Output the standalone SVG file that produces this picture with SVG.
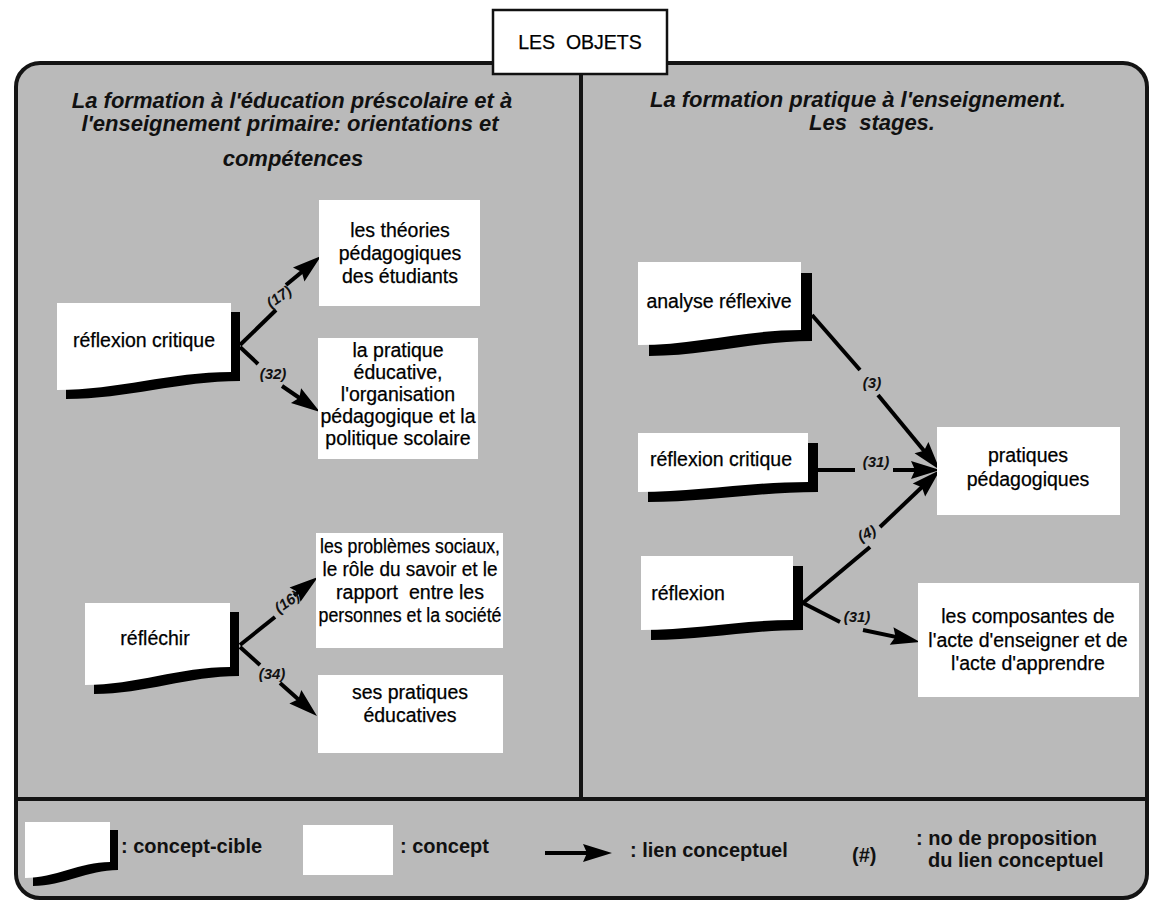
<svg xmlns="http://www.w3.org/2000/svg" width="1152" height="907" viewBox="0 0 1152 907">
  <defs>
    <marker id="ah" viewBox="-30 -11 32 22" markerWidth="32" markerHeight="22" refX="-15" refY="0" orient="auto" markerUnits="userSpaceOnUse">
      <path d="M0,0 L-29,-9 L-25,0 L-29,9 Z" fill="#000"/>
    </marker>
  </defs>
  <style>
    .panel { fill: #bababa; stroke: #141414; stroke-width: 4; }
    .rule { stroke: #141414; stroke-width: 4; }
    .shadow { fill: #000; }
    .card { fill: #fff; }
    .t { font-family: "Liberation Sans", Arial, sans-serif; font-size: 19.5px; fill: #000; stroke: #000; stroke-width: 0.25; text-anchor: middle; }
    .head { font-family: "Liberation Sans", Arial, sans-serif; font-size: 22px; font-style: italic; font-weight: bold; fill: #111; text-anchor: middle; }
    .lbl { font-family: "Liberation Sans", Arial, sans-serif; font-size: 15px; font-style: italic; font-weight: bold; fill: #111; text-anchor: middle; }
    .leg { font-family: "Liberation Sans", Arial, sans-serif; font-size: 20px; font-weight: bold; fill: #111; }
    .link { stroke: #000; stroke-width: 4; fill: none; }
    .arrow { marker-end: url(#ah); }
  </style>

  <!-- frame -->
  <rect class="panel" x="16" y="63" width="1131" height="835" rx="24"/>
  <line class="rule" x1="581" y1="74" x2="581" y2="799"/>
  <line class="rule" x1="16" y1="799" x2="1147" y2="799"/>

  <g id="title">
    <rect x="493" y="10" width="174" height="64" fill="#fff" stroke="#111" stroke-width="2.5"/>
    <text class="t" x="580" y="49" font-size="20" xml:space="preserve">LES  OBJETS</text>
  </g>

  <g id="heading-left">
    <text class="head" x="292" y="108">La formation à l'éducation préscolaire et à</text>
    <text class="head" x="290" y="131">l'enseignement primaire: orientations et</text>
    <text class="head" x="293" y="166">compétences</text>
  </g>
  <g id="heading-right">
    <text class="head" x="858" y="107">La formation pratique à l'enseignement.</text>
    <text class="head" x="872" y="130" xml:space="preserve">Les  stages.</text>
  </g>

  <!-- connectors -->
  <g id="connectors">
    <!-- réflexion critique -> théories (17) -->
    <line class="link" x1="240" y1="345" x2="276" y2="310"/>
    <line class="link arrow" x1="286" y1="285" x2="309.5" y2="265.6"/>
    <text class="lbl" transform="translate(282,301) rotate(-35)">(17)</text>
    <!-- réflexion critique -> pratique éducative (32) -->
    <line class="link" x1="240" y1="347" x2="258" y2="364"/>
    <line class="link arrow" x1="282" y1="386" x2="307.6" y2="403.5"/>
    <text class="lbl" x="273" y="379">(32)</text>
    <!-- réfléchir -> problèmes sociaux (16) -->
    <line class="link" x1="240" y1="645" x2="275" y2="617"/>
    <line class="link arrow" x1="294" y1="595.5" x2="306.1" y2="586.2"/>
    <text class="lbl" transform="translate(290,606) rotate(-35)">(16)</text>
    <!-- réfléchir -> ses pratiques (34) -->
    <line class="link" x1="240" y1="647" x2="260" y2="665"/>
    <line class="link arrow" x1="280" y1="683" x2="305.8" y2="706"/>
    <text class="lbl" x="272" y="679">(34)</text>
    <!-- analyse réflexive -> pratiques pédagogiques (3) -->
    <line class="link" x1="812" y1="315" x2="860" y2="370"/>
    <line class="link arrow" x1="878" y1="395" x2="930.4" y2="458.4"/>
    <text class="lbl" x="872" y="388">(3)</text>
    <!-- réflexion critique -> pratiques pédagogiques (31) -->
    <line class="link" x1="817" y1="470" x2="855" y2="470"/>
    <line class="link arrow" x1="893" y1="470" x2="925" y2="470"/>
    <text class="lbl" x="876" y="467">(31)</text>
    <!-- réflexion -> pratiques pédagogiques (4) -->
    <line class="link" x1="803" y1="603" x2="870" y2="547"/>
    <line class="link arrow" x1="880" y1="527" x2="929.1" y2="480.3"/>
    <text class="lbl" transform="translate(869,538) rotate(-25)">(4)</text>
    <!-- réflexion -> composantes (31) -->
    <line class="link" x1="803" y1="603" x2="840" y2="622"/>
    <line class="link arrow" x1="863" y1="630" x2="905.3" y2="638.9"/>
    <text class="lbl" x="857" y="622">(31)</text>
  </g>

  <!-- target concepts (wavy-bottom cards with drop shadow) -->
  <g id="cible-reflexion-critique-l">
    <path class="shadow" transform="translate(9,9)" d="M57,303 H231 V372 C170,372 118,390 57,390 Z"/>
    <path class="card" d="M57,303 H231 V372 C170,372 118,390 57,390 Z"/>
    <text class="t" x="144" y="347">réflexion critique</text>
  </g>
  <g id="cible-reflechir">
    <path class="shadow" transform="translate(9,9)" d="M85,603 H230 V667 C179,667 136,685 85,685 Z"/>
    <path class="card" d="M85,603 H230 V667 C179,667 136,685 85,685 Z"/>
    <text class="t" x="155" y="645">réfléchir</text>
  </g>
  <g id="cible-analyse">
    <path class="shadow" transform="translate(11,11)" d="M638,262 H801 V330 C744,330 695,345 638,345 Z"/>
    <path class="card" d="M638,262 H801 V330 C744,330 695,345 638,345 Z"/>
    <text class="t" x="719" y="308">analyse réflexive</text>
  </g>
  <g id="cible-reflexion-critique-r">
    <path class="shadow" transform="translate(10,10)" d="M638,433 H808 V482 C749,482 697,492 638,492 Z"/>
    <path class="card" d="M638,433 H808 V482 C749,482 697,492 638,492 Z"/>
    <text class="t" x="721" y="466">réflexion critique</text>
  </g>
  <g id="cible-reflexion">
    <path class="shadow" transform="translate(10,10)" d="M641,556 H793 V620 C740,620 694,630 641,630 Z"/>
    <path class="card" d="M641,556 H793 V620 C740,620 694,630 641,630 Z"/>
    <text class="t" x="688" y="600">réflexion</text>
  </g>

  <!-- plain concepts -->
  <g id="concept-theories">
    <rect class="card" x="319" y="200" width="161" height="106"/>
    <text class="t" x="400" y="237">les théories</text>
    <text class="t" x="400" y="260">pédagogiques</text>
    <text class="t" x="400" y="283">des étudiants</text>
  </g>
  <g id="concept-pratique">
    <rect class="card" x="318" y="338" width="160" height="121"/>
    <text class="t" x="398" y="357">la pratique</text>
    <text class="t" x="398" y="379">éducative,</text>
    <text class="t" x="398" y="401">l'organisation</text>
    <text class="t" x="398" y="423">pédagogique et la</text>
    <text class="t" x="398" y="445">politique scolaire</text>
  </g>
  <g id="concept-problemes">
    <rect class="card" x="316" y="533" width="187" height="115"/>
    <text class="t" x="410" y="553" textLength="180" lengthAdjust="spacingAndGlyphs">les problèmes sociaux,</text>
    <text class="t" x="410" y="576" textLength="175" lengthAdjust="spacingAndGlyphs">le rôle du savoir et le</text>
    <text class="t" x="410" y="599" textLength="148" lengthAdjust="spacingAndGlyphs" xml:space="preserve">rapport  entre les</text>
    <text class="t" x="410" y="622" textLength="183" lengthAdjust="spacingAndGlyphs">personnes et la société</text>
  </g>
  <g id="concept-ses-pratiques">
    <rect class="card" x="318" y="675" width="185" height="78"/>
    <text class="t" x="410" y="699">ses pratiques</text>
    <text class="t" x="410" y="722">éducatives</text>
  </g>
  <g id="concept-pratiques-pedagogiques">
    <rect class="card" x="937" y="427" width="183" height="88"/>
    <text class="t" x="1028" y="462">pratiques</text>
    <text class="t" x="1028" y="486">pédagogiques</text>
  </g>
  <g id="concept-composantes">
    <rect class="card" x="918" y="583" width="221" height="114"/>
    <text class="t" x="1028" y="623">les composantes de</text>
    <text class="t" x="1028" y="647">l'acte d'enseigner et de</text>
    <text class="t" x="1028" y="670">l'acte d'apprendre</text>
  </g>

  <!-- key -->
  <g id="legend">
    <path class="shadow" transform="translate(8,8)" d="M25,822 H110 V862 C80,862 55,878 25,878 Z"/>
    <path class="card" d="M25,822 H110 V862 C80,862 55,878 25,878 Z"/>
    <text class="leg" x="121" y="853">: concept-cible</text>
    <rect class="card" x="303" y="825" width="90" height="50"/>
    <text class="leg" x="400" y="853">: concept</text>
    <line class="link arrow" x1="545" y1="853" x2="597" y2="853"/>
    <text class="leg" x="630" y="857">: lien conceptuel</text>
    <text class="leg" x="852" y="862">(#)</text>
    <text class="leg" x="916" y="845">: no de proposition</text>
    <text class="leg" x="928" y="867">du lien conceptuel</text>
  </g>
</svg>
